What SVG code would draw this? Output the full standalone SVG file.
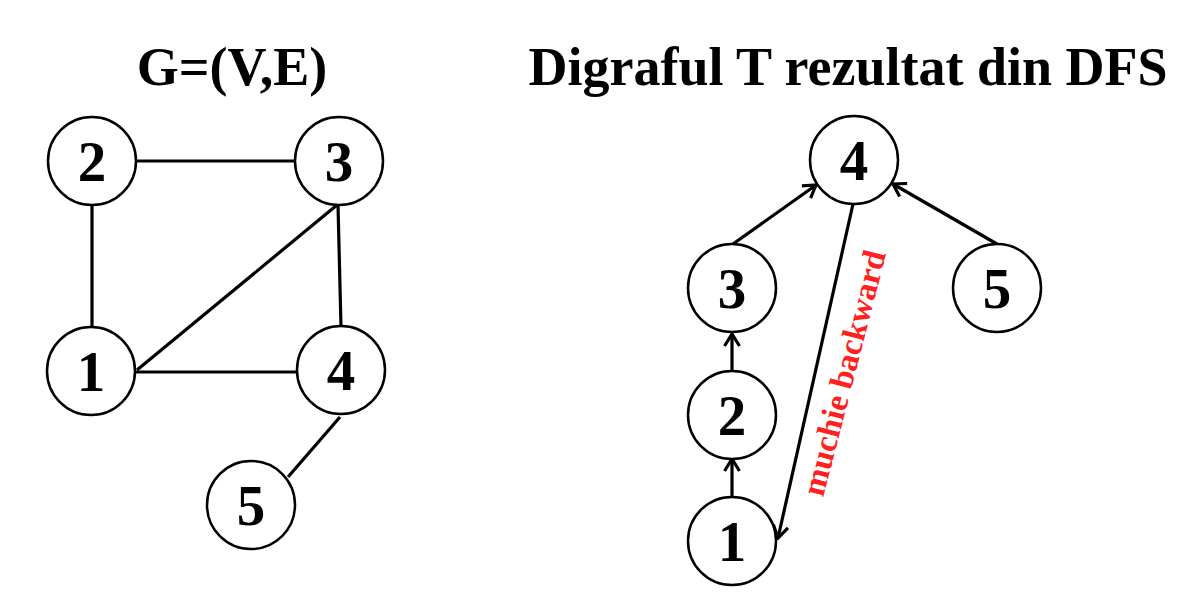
<svg xmlns="http://www.w3.org/2000/svg" width="1200" height="600" viewBox="0 0 1200 600">
<style>
.title{font-family:"Liberation Serif","Times New Roman",serif;font-weight:bold;font-size:54px;fill:#000;text-anchor:middle}
.node circle{fill:#fff;stroke:#000;stroke-width:2.5}
.node text{font-family:"Liberation Serif","Times New Roman",serif;font-weight:bold;font-size:57px;fill:#000;text-anchor:middle}
.edge{stroke:#000;stroke-width:3.2;fill:none}
.lbl{font-family:"Liberation Serif","Times New Roman",serif;font-weight:bold;font-size:33px;fill:#ff2020;text-anchor:middle}
</style>
<defs>
<marker id="arr" markerWidth="16" markerHeight="18" refX="14" refY="9" orient="auto" markerUnits="userSpaceOnUse">
<path d="M2,1.5 L14,9 L2,16.5" fill="none" stroke="#000" stroke-width="3.2"/>
</marker>
</defs>
<rect width="1200" height="600" fill="#fff"/>
<text class="title" x="232" y="85">G=(V,E)</text>
<text class="title" x="848" y="85">Digraful T rezultat din DFS</text>
<g id="connectors">
<line class="edge" x1="136" y1="161" x2="295" y2="161"/>
<line class="edge" x1="92" y1="205" x2="92" y2="328"/>
<line class="edge" x1="338" y1="205" x2="341" y2="327"/>
<line class="edge" x1="137" y1="370" x2="337" y2="205"/>
<line class="edge" x1="135" y1="372" x2="298" y2="372"/>
<line class="edge" x1="340" y1="417" x2="288" y2="477"/>
<line class="edge" x1="733" y1="244" x2="816" y2="185" marker-end="url(#arr)"/>
<line class="edge" x1="997" y1="244" x2="893" y2="184" marker-end="url(#arr)"/>
<line class="edge" x1="732" y1="372" x2="732" y2="334" marker-end="url(#arr)"/>
<line class="edge" x1="732" y1="497" x2="732" y2="459" marker-end="url(#arr)"/>
<line class="edge" x1="853" y1="204" x2="778" y2="538" marker-end="url(#arr)"/>
<text class="lbl" transform="translate(844,373) rotate(-75.5)" x="0" y="11">muchie backward</text>
</g>
<g id="g-n2" class="node"><circle cx="92" cy="161" r="44"/><text x="92" y="181">2</text></g>
<g id="g-n3" class="node"><circle cx="339" cy="161" r="44"/><text x="339" y="181">3</text></g>
<g id="g-n1" class="node"><circle cx="91" cy="371" r="44"/><text x="91" y="391">1</text></g>
<g id="g-n4" class="node"><circle cx="341" cy="370" r="44"/><text x="341" y="390">4</text></g>
<g id="g-n5" class="node"><circle cx="251" cy="505" r="44"/><text x="251" y="525">5</text></g>
<g id="t-n4" class="node"><circle cx="854" cy="160" r="44"/><text x="854" y="180">4</text></g>
<g id="t-n3" class="node"><circle cx="732" cy="288" r="44"/><text x="732" y="308">3</text></g>
<g id="t-n5" class="node"><circle cx="997" cy="288" r="44"/><text x="997" y="308">5</text></g>
<g id="t-n2" class="node"><circle cx="732" cy="415" r="44"/><text x="732" y="435">2</text></g>
<g id="t-n1" class="node"><circle cx="732" cy="541" r="44"/><text x="732" y="561">1</text></g>
</svg>
